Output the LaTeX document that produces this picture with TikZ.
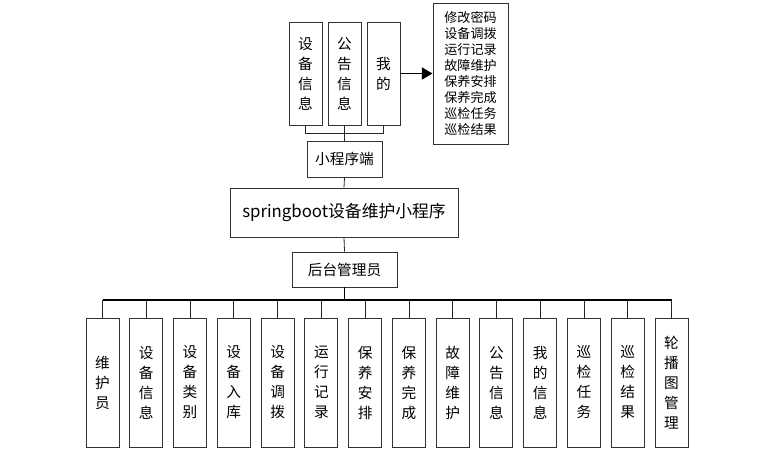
\documentclass[tikz,border=0pt]{standalone}
\usepackage{fontspec}
\newfontfamily\cjk{Noto Sans CJK SC}
\usetikzlibrary{arrows.meta}

\begin{document}
\begin{tikzpicture}[x=0.75pt, y=-0.75pt, every node/.style={font=\cjk},
  vbox/.style={draw=black!80, line width=0.7pt, minimum width=24.75pt, inner sep=1pt, align=center, font=\cjk\fontsize{11}{15}\selectfont},
  topbox/.style={vbox, minimum height=77.25pt},
  botbox/.style={vbox, minimum height=96.75pt},
  hbox/.style={draw=black!80, line width=0.7pt, font=\cjk\fontsize{11}{13}\selectfont},
  link/.style={black!85, line width=0.6pt}]
  \useasboundingbox (0,0) rectangle (766,455);

  % Mini program pages
  \node[topbox] (sbxx) at (305.5,73.5) {设\\备\\信\\息};
  \node[topbox] (ggxx) at (344.5,73.5) {公\\告\\信\\息};
  \node[topbox] (wd) at (383.5,73.5) {我\\的};
  \node[hbox, minimum width=56.25pt, minimum height=105.75pt, align=left, font=\cjk\fontsize{9.8}{12}\selectfont] (funcs) at (470.5,73.5)
    {修改密码\\设备调拨\\运行记录\\故障维护\\保养安排\\保养完成\\巡检任务\\巡检结果};

  % Middle
  \node[hbox, minimum width=56.25pt, minimum height=27pt] (xcx) at (344.5,159) {小程序端};
  \node[hbox, minimum width=171pt, minimum height=36.75pt, font=\cjk\fontsize{12.6}{14}\selectfont] (sys) at (344,212.5) {springboot设备维护小程序};
  \node[hbox, minimum width=78.75pt, minimum height=26.25pt] (admin) at (344.5,269.5) {后台管理员};

  % Admin pages
  \node[botbox] (b1) at (102.5,382.5) {维\\护\\员};
  \node[botbox] (b2) at (146.3,382.5) {设\\备\\信\\息};
  \node[botbox] (b3) at (190.0,382.5) {设\\备\\类\\别};
  \node[botbox] (b4) at (233.8,382.5) {设\\备\\入\\库};
  \node[botbox] (b5) at (277.6,382.5) {设\\备\\调\\拨};
  \node[botbox] (b6) at (321.4,382.5) {运\\行\\记\\录};
  \node[botbox] (b7) at (365.1,382.5) {保\\养\\安\\排};
  \node[botbox] (b8) at (408.9,382.5) {保\\养\\完\\成};
  \node[botbox] (b9) at (452.7,382.5) {故\\障\\维\\护};
  \node[botbox] (b10) at (496.4,382.5) {公\\告\\信\\息};
  \node[botbox] (b11) at (540.2,382.5) {我\\的\\信\\息};
  \node[botbox] (b12) at (584.0,382.5) {巡\\检\\任\\务};
  \node[botbox] (b13) at (627.7,382.5) {巡\\检\\结\\果};
  \node[botbox] (b14) at (671.5,382.5) {轮\\播\\图\\管\\理};

  % Top links
  \coordinate (topj) at (344.5,133);
  \draw[link] (sbxx.south) |- (topj);
  \draw[link] (wd.south) |- (topj);
  \draw[link] (ggxx.south) -- (xcx.north);
  \draw[-{Triangle[length=8pt,width=9pt]}, line width=1.4pt] (wd.east) -- (funcs.west);

  \draw[link] (xcx.south) -- (sys.north);
  \draw[link] (sys.south) -- (admin.north);

  % Bottom links
  \coordinate (bus) at (344.5,300);
  \draw[line width=1.2pt] (admin.south) -- (bus);
  \draw[line width=0.9pt] (b1.north |- bus) -- (b14.north |- bus);
  \draw[link] (b1.north) -- (b1.north |- bus);
  \draw[link] (b2.north) -- (b2.north |- bus);
  \draw[link] (b3.north) -- (b3.north |- bus);
  \draw[link] (b4.north) -- (b4.north |- bus);
  \draw[link] (b5.north) -- (b5.north |- bus);
  \draw[link] (b6.north) -- (b6.north |- bus);
  \draw[link] (b7.north) -- (b7.north |- bus);
  \draw[link] (b8.north) -- (b8.north |- bus);
  \draw[link] (b9.north) -- (b9.north |- bus);
  \draw[link] (b10.north) -- (b10.north |- bus);
  \draw[link] (b11.north) -- (b11.north |- bus);
  \draw[link] (b12.north) -- (b12.north |- bus);
  \draw[link] (b13.north) -- (b13.north |- bus);
  \draw[link] (b14.north) -- (b14.north |- bus);
\end{tikzpicture}
\end{document}
